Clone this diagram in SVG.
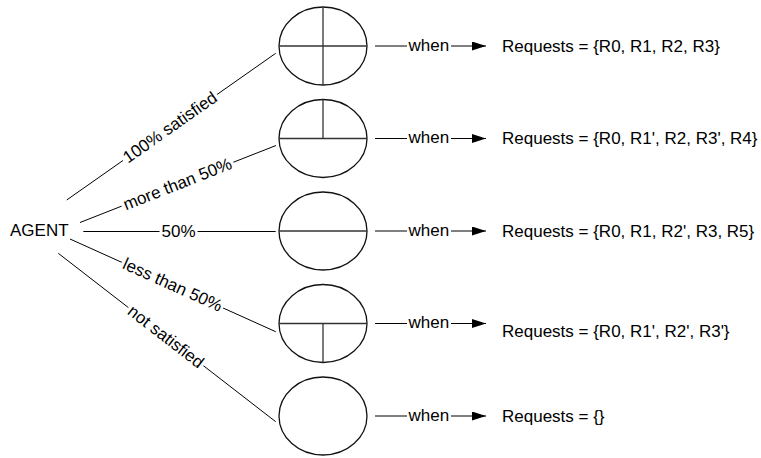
<svg xmlns="http://www.w3.org/2000/svg" width="761" height="458" viewBox="0 0 761 458">
  <defs>
    <style>
      text { font-family: "Liberation Sans", Arial, sans-serif; font-size: 17px; fill: #000; }
      .edge { stroke: #000; stroke-width: 1; fill: none; }
      .state { stroke: #111; stroke-width: 1.3; fill: #fff; }
      .part { stroke: #333; stroke-width: 1.3; fill: none; }
      .mask { fill: #fff; stroke: none; }
      .lbl { text-anchor: middle; }
    </style>
    <marker id="arrow" viewBox="0 0 14 9" refX="14" refY="4.5" markerWidth="14" markerHeight="9" markerUnits="userSpaceOnUse" orient="auto">
      <path d="M0,0 L14,4.5 L0,9 Z" fill="#000"/>
    </marker>
  </defs>

  <rect width="761" height="458" fill="#fff"/>

  <!-- source node -->
  <g id="agent">
    <text x="10" y="235.7">AGENT</text>
  </g>

  <!-- branches from AGENT to each satisfaction state -->
  <g id="connectors">
    <line class="edge" x1="66.7" y1="200" x2="275.7" y2="53.3"/>
    <line class="edge" x1="80" y1="222.5" x2="276" y2="145.5"/>
    <line class="edge" x1="83.3" y1="231.5" x2="275.7" y2="231.5"/>
    <line class="edge" x1="70" y1="239" x2="275.7" y2="331.7"/>
    <line class="edge" x1="58.3" y1="253.3" x2="275.7" y2="421.7"/>

    <!-- edge labels, each on a white backing that breaks the line -->
    <g transform="translate(170,127.5) rotate(-35.07)">
      <rect class="mask" x="-57.5" y="-7" width="115" height="14"/>
      <text class="lbl" y="5.5">100% satisfied</text>
    </g>
    <g transform="translate(177.5,184.3) rotate(-21.5)">
      <rect class="mask" x="-60" y="-7" width="120" height="14"/>
      <text class="lbl" y="5.5">more than 50%</text>
    </g>
    <g transform="translate(178.5,231.5)">
      <rect class="mask" x="-19" y="-7" width="38" height="14"/>
      <text class="lbl" y="5.8">50%</text>
    </g>
    <g transform="translate(172.5,285) rotate(24.26)">
      <rect class="mask" x="-55.5" y="-7" width="111" height="14"/>
      <text class="lbl" y="5.5">less than 50%</text>
    </g>
    <g transform="translate(165.8,336.8) rotate(37.77)">
      <rect class="mask" x="-47.5" y="-7" width="95" height="14"/>
      <text class="lbl" y="5.5">not satisfied</text>
    </g>

    <!-- "when" arrows to the request sets -->
    <g id="when-arrows">
      <line class="edge" x1="375" y1="46" x2="407" y2="46"/>
      <line class="edge" x1="451" y1="46" x2="486" y2="46" marker-end="url(#arrow)"/>
      <text x="408.5" y="50.5">when</text>

      <line class="edge" x1="375" y1="138.5" x2="407" y2="138.5"/>
      <line class="edge" x1="451" y1="138.5" x2="486" y2="138.5" marker-end="url(#arrow)"/>
      <text x="408.5" y="143">when</text>

      <line class="edge" x1="375" y1="231" x2="407" y2="231"/>
      <line class="edge" x1="451" y1="231" x2="486" y2="231" marker-end="url(#arrow)"/>
      <text x="408.5" y="235.5">when</text>

      <line class="edge" x1="375" y1="323.5" x2="407" y2="323.5"/>
      <line class="edge" x1="451" y1="323.5" x2="486" y2="323.5" marker-end="url(#arrow)"/>
      <text x="408.5" y="328">when</text>

      <line class="edge" x1="375" y1="416" x2="407" y2="416"/>
      <line class="edge" x1="451" y1="416" x2="486" y2="416" marker-end="url(#arrow)"/>
      <text x="408.5" y="420.5">when</text>
    </g>
  </g>

  <!-- satisfaction states -->
  <g id="state-full">
    <ellipse class="state" cx="323" cy="46" rx="44" ry="39"/>
    <line class="part" x1="279" y1="46" x2="367" y2="46"/>
    <line class="part" x1="323" y1="7" x2="323" y2="85"/>
  </g>
  <g id="state-more-half">
    <ellipse class="state" cx="323" cy="138.5" rx="44" ry="39"/>
    <line class="part" x1="279" y1="138.5" x2="367" y2="138.5"/>
    <line class="part" x1="323" y1="99.5" x2="323" y2="138.5"/>
  </g>
  <g id="state-half">
    <ellipse class="state" cx="323" cy="231" rx="44" ry="39"/>
    <line class="part" x1="279" y1="231" x2="367" y2="231"/>
  </g>
  <g id="state-less-half">
    <ellipse class="state" cx="323" cy="323.5" rx="44" ry="39"/>
    <line class="part" x1="279" y1="323.5" x2="367" y2="323.5"/>
    <line class="part" x1="323" y1="323.5" x2="323" y2="362.5"/>
  </g>
  <g id="state-none">
    <ellipse class="state" cx="323" cy="416" rx="44" ry="39"/>
  </g>

  <!-- resulting request sets -->
  <g id="req-1"><text x="502" y="51.7">Requests = {R0, R1, R2, R3}</text></g>
  <g id="req-2"><text x="502" y="144">Requests = {R0, R1', R2, R3', R4}</text></g>
  <g id="req-3"><text x="502" y="236.5">Requests = {R0, R1, R2', R3, R5}</text></g>
  <g id="req-4"><text x="502" y="336.7">Requests = {R0, R1', R2', R3'}</text></g>
  <g id="req-5"><text x="502" y="421.5">Requests = {}</text></g>
</svg>
